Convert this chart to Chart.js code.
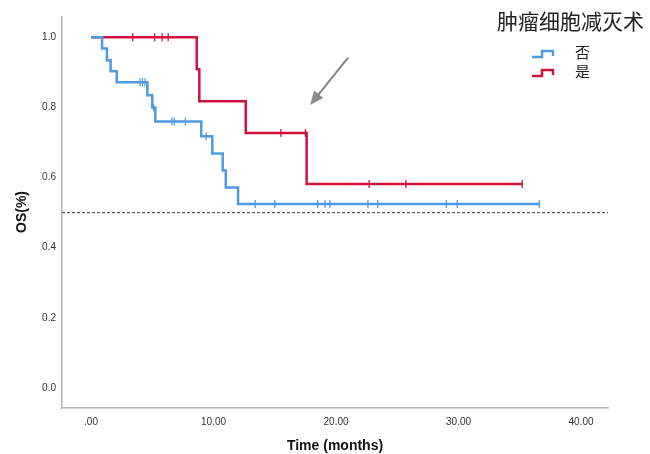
<!DOCTYPE html>
<html>
<head>
<meta charset="utf-8">
<script src="https://cdn.jsdelivr.net/npm/chart.js@4"></script>
<style>
  body { margin: 0; background: #fff; }
  #wrap { width: 650px; height: 454px; }
</style>
</head>
<body>
<div id="wrap"><canvas id="km" width="650" height="454"></canvas></div>
<script>
// --- data ---
const groupNames = ["否", "是"];
const legendTitle = "肿瘤细胞减灭术";

// 否 (blue) step points: time, survival
const noTimes = [0, 0.9, 1.3, 1.6, 2.1, 4.6, 5.0, 5.25, 9.0, 9.9, 10.75, 11.0, 12.0, 36.6];
const noSurv  = [1.0, 0.968, 0.935, 0.903, 0.872, 0.835, 0.80, 0.76, 0.718, 0.669, 0.62, 0.572, 0.525, 0.525];
const noCensor = [4.0, 4.2, 4.4, 5.1, 6.6, 6.8, 7.7, 9.4, 13.4, 15.0, 18.5, 19.1, 19.5, 22.6, 23.4, 29.0, 29.9, 36.6];

// 是 (red)
const yesTimes = [0, 8.63, 8.84, 12.63, 17.6, 35.2];
const yesSurv  = [1.0, 0.909, 0.818, 0.727, 0.582, 0.582];
const yesCensor = [3.4, 5.2, 5.8, 6.3, 15.5, 17.5, 22.7, 25.7, 35.2];

const xTicks = [0, 10, 20, 30, 40];
const yTicks = [0, 0.2, 0.4, 0.6, 0.8, 1.0];
const medianLine = 0.5;
const X_MIN = -2.37, X_MAX = 42.2;
const Y_MIN = -0.057, Y_MAX = 1.058;

// arrow annotation (data units)
const arrowFrom = { x: 20.98, y: 0.942 };
const arrowTo = { x: 17.88, y: 0.807 };

const BLUE = "#4f9ae2";
const RED = "#d0123e";

function steps(times, surv) {
  return times.map((t, i) => ({ x: t, y: surv[i] }));
}
function survAt(times, surv, t) {
  let s = surv[0];
  for (let i = 0; i < times.length; i++) if (times[i] <= t) s = surv[i];
  return s;
}
function censorPts(c, times, surv) {
  return c.map(t => ({ x: t, y: survAt(times, surv, t) }));
}

const lineBase = { type: "line", stepped: true, pointRadius: 0, borderWidth: 2.5, fill: false };
const tickBase = { type: "scatter", pointStyle: "line", rotation: 90, pointRadius: 4, borderWidth: 1.3 };

const fixtures = {
  id: "fixtures",
  afterDraw(chart) {
    const ctx = chart.ctx;
    const xs = chart.scales.x, ys = chart.scales.y;
    ctx.save();
    // arrow
    const x1 = xs.getPixelForValue(arrowFrom.x), y1 = ys.getPixelForValue(arrowFrom.y);
    const x2 = xs.getPixelForValue(arrowTo.x), y2 = ys.getPixelForValue(arrowTo.y);
    const ang = Math.atan2(y2 - y1, x2 - x1);
    const head = 15;
    ctx.strokeStyle = "#8a8a8a"; ctx.fillStyle = "#8a8a8a"; ctx.lineWidth = 2.2;
    ctx.beginPath();
    ctx.moveTo(x1, y1);
    ctx.lineTo(x2 - Math.cos(ang) * head * 0.8, y2 - Math.sin(ang) * head * 0.8);
    ctx.stroke();
    ctx.beginPath();
    ctx.moveTo(x2, y2);
    ctx.lineTo(x2 - head * Math.cos(ang - 0.4), y2 - head * Math.sin(ang - 0.4));
    ctx.lineTo(x2 - head * Math.cos(ang + 0.4), y2 - head * Math.sin(ang + 0.4));
    ctx.closePath();
    ctx.fill();

    // axis titles
    ctx.fillStyle = "#111";
    ctx.font = "bold 14px 'Liberation Sans', Arial, sans-serif";
    ctx.textAlign = "center"; ctx.textBaseline = "middle";
    ctx.fillText("Time (months)", 335, 446);
    ctx.save();
    ctx.translate(22, 212);
    ctx.rotate(-Math.PI / 2);
    ctx.fillText("OS(%)", 0, 0);
    ctx.restore();

    // legend
    ctx.textAlign = "left"; ctx.textBaseline = "alphabetic";
    ctx.fillStyle = "#222";
    ctx.font = "21px 'Noto Sans CJK SC', sans-serif";
    ctx.fillText(legendTitle, 497, 29);
    ctx.font = "15px 'Noto Sans CJK SC', sans-serif";
    const cols = [BLUE, RED];
    [53, 72].forEach((yy, i) => {
      ctx.strokeStyle = cols[i]; ctx.lineWidth = 2.5;
      ctx.beginPath();
      ctx.moveTo(532, yy + 4); ctx.lineTo(542, yy + 4); ctx.lineTo(542, yy - 2);
      ctx.lineTo(553, yy - 2); ctx.lineTo(553, yy + 3);
      ctx.stroke();
      ctx.fillStyle = "#222";
      ctx.fillText(groupNames[i], 575, yy + 5);
    });
    ctx.restore();
  }
};

new Chart(document.getElementById("km"), {
  data: {
    datasets: [
      { ...lineBase, label: "ref", data: [{ x: X_MIN, y: medianLine }, { x: X_MAX, y: medianLine }],
        stepped: false, borderColor: "#333", borderWidth: 1, borderDash: [3, 2] },
      { ...lineBase, label: groupNames[0], data: steps(noTimes, noSurv), borderColor: BLUE },
      { ...lineBase, label: groupNames[1], data: steps(yesTimes, yesSurv), borderColor: RED },
      { ...tickBase, label: "c0", data: censorPts(noCensor, noTimes, noSurv), borderColor: BLUE, backgroundColor: BLUE },
      { ...tickBase, label: "c1", data: censorPts(yesCensor, yesTimes, yesSurv), borderColor: RED, backgroundColor: RED }
    ]
  },
  options: {
    responsive: false,
    animation: false,
    layout: { padding: { top: 17, right: 42, left: 0, bottom: 0 } },
    plugins: { legend: { display: false }, tooltip: { enabled: false } },
    scales: {
      x: {
        type: "linear", min: X_MIN, max: X_MAX,
        afterBuildTicks: s => { s.ticks = xTicks.map(v => ({ value: v })); },
        afterFit: s => { s.height = 46; },
        grid: { display: false, drawTicks: false },
        border: { display: true, color: "#b3b3b3", width: 1.5 },
        ticks: {
          padding: 8, color: "#333", maxRotation: 0,
          font: { size: 10, family: "'Liberation Sans', Arial, sans-serif" },
          callback: v => v === 0 ? ".00" : v.toFixed(2)
        }
      },
      y: {
        type: "linear", min: Y_MIN, max: Y_MAX,
        afterBuildTicks: s => { s.ticks = yTicks.map(v => ({ value: v })); },
        afterFit: s => { s.width = 62; },
        grid: { display: false, drawTicks: false },
        border: { display: true, color: "#b3b3b3", width: 1.5 },
        ticks: {
          padding: 6, color: "#333",
          font: { size: 10, family: "'Liberation Sans', Arial, sans-serif" },
          callback: v => v.toFixed(1)
        }
      }
    }
  },
  plugins: [fixtures]
});
</script>
</body>
</html>
